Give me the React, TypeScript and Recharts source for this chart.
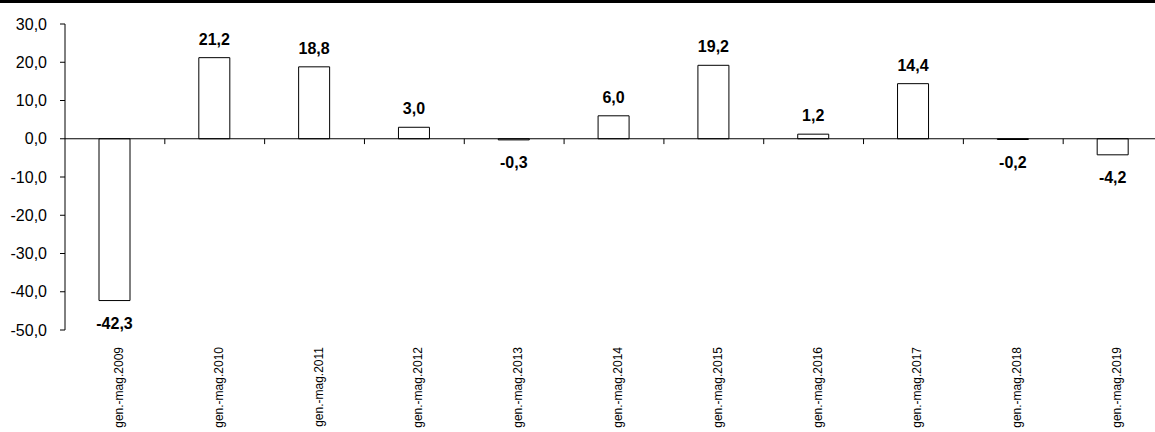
import React from "react";
import { BarChart, Bar, XAxis, YAxis, ReferenceLine, LabelList } from "recharts";

const periods = [
  "gen.-mag.2009",
  "gen.-mag.2010",
  "gen.-mag.2011",
  "gen.-mag.2012",
  "gen.-mag.2013",
  "gen.-mag.2014",
  "gen.-mag.2015",
  "gen.-mag.2016",
  "gen.-mag.2017",
  "gen.-mag.2018",
  "gen.-mag.2019",
];
const changes = [-42.3, 21.2, 18.8, 3.0, -0.3, 6.0, 19.2, 1.2, 14.4, -0.2, -4.2];
const yTicks = [-50, -40, -30, -20, -10, 0, 10, 20, 30];

const data = periods.map((name, i) => ({ name, value: changes[i] }));

const FONT = '"Liberation Sans", Arial, sans-serif';
const fmt = (v: number) => v.toFixed(1).replace(".", ",");

function ValueLabel(props: any) {
  const { x, y, width, height, value } = props;
  const top = Math.min(y, y + height);
  const bottom = Math.max(y, y + height);
  const cx = x + width / 2;
  const ty = value >= 0 ? top - 13 : bottom + 28;
  return (
    <text x={cx} y={ty} textAnchor="middle" fontFamily={FONT} fontSize={16} fontWeight={700} fill="#000">
      {fmt(value)}
    </text>
  );
}

function PeriodTick(props: any) {
  const { x, y, payload } = props;
  return (
    <g transform={`translate(${x + 8},${y + 9})`}>
      <text transform="rotate(-90)" textAnchor="end" fontFamily={FONT} fontSize={12} fill="#000">
        {payload.value}
      </text>
    </g>
  );
}

export default function App() {
  return (
    <div
      style={{
        position: "absolute",
        left: 0,
        top: 0,
        width: 1155,
        height: 432,
        overflow: "hidden",
        background: "#fff",
      }}
    >
      {/* top rule */}
      <div style={{ position: "absolute", left: 0, top: 0, width: "100%", height: 3, background: "#000" }} />

      <BarChart width={1163} height={432} data={data} margin={{ top: 24, right: 0, left: 0, bottom: 0 }}>
        <YAxis
          yAxisId="v"
          domain={[-50, 30]}
          ticks={yTicks}
          width={65}
          tickFormatter={fmt}
          tick={{ fontFamily: FONT, fontSize: 16, fill: "#000" }}
          tickSize={5}
          tickMargin={13}
          stroke="#000"
          axisLine={{ stroke: "#000" }}
          tickLine={{ stroke: "#000" }}
          interval={0}
        />
        <XAxis
          xAxisId="cat"
          dataKey="name"
          height={102}
          axisLine={false}
          tickLine={false}
          interval={0}
          tick={<PeriodTick />}
        />

        <ReferenceLine yAxisId="v" xAxisId="cat" y={0} stroke="#000" strokeWidth={1} />
        {/* small tick marks on the zero line at the start of each category band */}
        {periods.slice(1).map((p) => (
          <ReferenceLine
            key={p}
            yAxisId="v"
            xAxisId="cat"
            position="start"
            segment={[
              { x: p, y: 0 },
              { x: p, y: -1.4 },
            ]}
            stroke="#000"
            strokeWidth={1}
          />
        ))}

        <Bar
          yAxisId="v"
          xAxisId="cat"
          dataKey="value"
          barSize={31}
          fill="#fff"
          stroke="#000"
          strokeWidth={1}
          isAnimationActive={false}
        >
          <LabelList dataKey="value" content={<ValueLabel />} />
        </Bar>
      </BarChart>
    </div>
  );
}
